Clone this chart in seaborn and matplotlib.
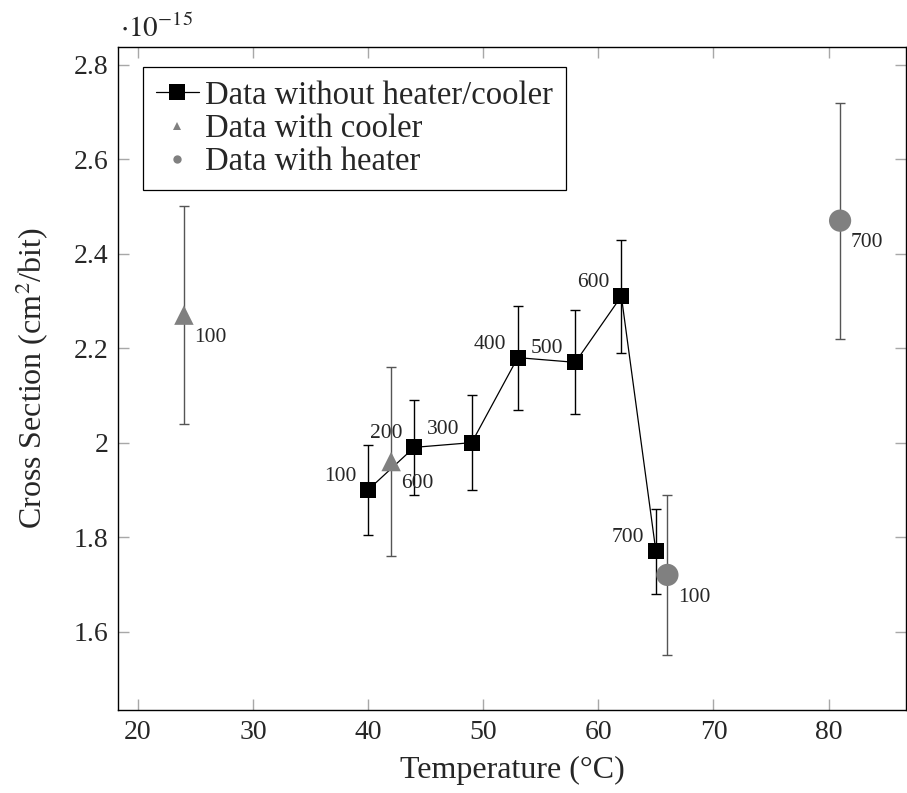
import matplotlib
matplotlib.use("Agg")
import matplotlib.pyplot as plt
from matplotlib.lines import Line2D
import pandas as pd
import seaborn as sns

# Cross section in units of 1e-15 cm^2/bit, labelled by run number
temp_plain = [40, 44, 49, 53, 58, 62, 65]
xs_plain = [1.90, 1.99, 2.00, 2.18, 2.17, 2.31, 1.77]
err_plain = [0.095, 0.10, 0.10, 0.11, 0.11, 0.12, 0.09]
lbl_plain = ["100", "200", "300", "400", "500", "600", "700"]

temp_cool = [24, 42]
xs_cool = [2.27, 1.96]
err_cool = [0.23, 0.20]
lbl_cool = ["100", "600"]

temp_heat = [66, 81]
xs_heat = [1.72, 2.47]
err_heat = [0.17, 0.25]
lbl_heat = ["100", "700"]

legend_names = ["Data without heater/cooler", "Data with cooler", "Data with heater"]

sns.set_theme(style="white")
plt.rcParams["font.family"] = ["Liberation Serif", "DejaVu Serif"]
plt.rcParams["mathtext.fontset"] = "stix"

GRAY = "#808080"
BAR_GRAY = "#555555"

fig = plt.figure(figsize=(9.07, 7.93), dpi=100)
ax = fig.add_axes([118.3 / 907, 1 - 710 / 793, (905.7 - 118.3) / 907, (710 - 47.3) / 793])

plain = pd.DataFrame({"T": temp_plain, "xs": xs_plain})
cool = pd.DataFrame({"T": temp_cool, "xs": xs_cool})
heat = pd.DataFrame({"T": temp_heat, "xs": xs_heat})

# error bars underneath the markers
ax.errorbar(temp_plain, xs_plain, yerr=err_plain, fmt="none", ecolor="black",
            elinewidth=1.0, capsize=3.8, capthick=1.0, zorder=2)
ax.errorbar(temp_cool, xs_cool, yerr=err_cool, fmt="none", ecolor=BAR_GRAY,
            elinewidth=1.0, capsize=3.8, capthick=1.0, zorder=2)
ax.errorbar(temp_heat, xs_heat, yerr=err_heat, fmt="none", ecolor=BAR_GRAY,
            elinewidth=1.0, capsize=3.8, capthick=1.0, zorder=2)

sns.lineplot(data=plain, x="T", y="xs", sort=False, color="black", linewidth=0.9,
             marker="s", markersize=12, markeredgewidth=0, ax=ax, zorder=3)
sns.scatterplot(data=cool, x="T", y="xs", marker="^", s=14 ** 2, color=GRAY,
                edgecolor="none", ax=ax, zorder=4)
sns.scatterplot(data=heat, x="T", y="xs", marker="o", s=16 ** 2, color=GRAY,
                edgecolor="none", ax=ax, zorder=4)

# run-number annotations
for t, v, s in zip(temp_plain, xs_plain, lbl_plain):
    ax.annotate(s, (t, v), xytext=(-8.6, 6.5), textcoords="offset points",
                ha="right", va="baseline", fontsize=15.5, zorder=5)
for t, v, s in zip(temp_cool + temp_heat, xs_cool + xs_heat, lbl_cool + lbl_heat):
    ax.annotate(s, (t, v), xytext=(7.5, -19.2), textcoords="offset points",
                ha="left", va="baseline", fontsize=15.5, zorder=5)

ax.set_xlim(18.3, 86.7)
ax.set_ylim(1.434, 2.837)
ax.set_xticks([20, 30, 40, 50, 60, 70, 80])
ax.set_yticks([1.6, 1.8, 2.0, 2.2, 2.4, 2.6, 2.8])
ax.set_yticklabels(["1.6", "1.8", "2", "2.2", "2.4", "2.6", "2.8"])
ax.tick_params(axis="both", which="major", direction="in", length=8, width=1.0,
               color="#a8a8a8", labelsize=20, pad=7.3,
               top=True, right=True, bottom=True, left=True)
for sp in ax.spines.values():
    sp.set_color("black")
    sp.set_linewidth(1.0)

ax.set_xlabel("Temperature (°C)", fontsize=23, labelpad=8)
ax.set_ylabel("Cross Section (cm$^2$/bit)", fontsize=23, labelpad=16)

fig.text(120 / 907, 1 - 37 / 793, r"$\cdot 10^{-15}$", fontsize=21,
         ha="left", va="baseline")

handles = [
    Line2D([], [], color="black", linewidth=0.9, marker="s", markersize=12,
           markeredgewidth=0),
    Line2D([], [], linestyle="none", color=GRAY, marker="^", markersize=6,
           markeredgewidth=0),
    Line2D([], [], linestyle="none", color=GRAY, marker="o", markersize=6,
           markeredgewidth=0),
]
leg = ax.legend(handles, legend_names, loc="upper left",
                bbox_to_anchor=(0.0314, 0.9703), borderaxespad=0,
                fontsize=23.5, frameon=True, fancybox=False, framealpha=1,
                edgecolor="black", handlelength=1.3, handletextpad=0.2,
                labelspacing=0.09, borderpad=0.4)
leg.get_frame().set_linewidth(0.9)

fig.savefig("out.png", dpi=100)
